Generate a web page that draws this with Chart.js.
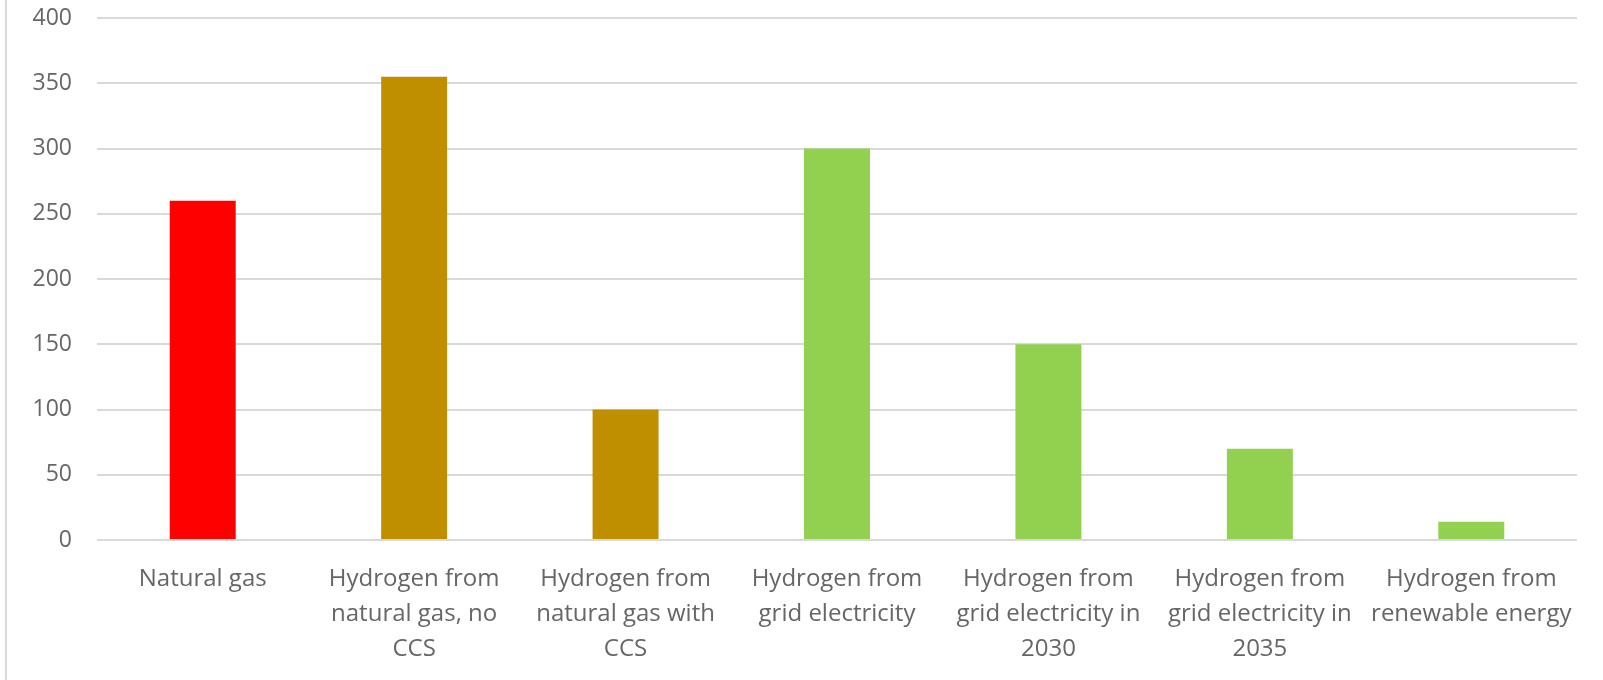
<!DOCTYPE html>
<html>
<head>
<meta charset="utf-8">
<script src="https://cdn.jsdelivr.net/npm/chart.js@4"></script>
<style>
  html, body { margin: 0; padding: 0; background: #ffffff; }
  #wrap { position: relative; width: 1603px; height: 680px; }
  canvas { display: block; }
</style>
</head>
<body>
<div id="wrap"><canvas id="c" width="1603" height="680"></canvas></div>
<script>
const categories = [
  "Natural gas",
  ["Hydrogen from", "natural gas, no", "CCS"],
  ["Hydrogen from", "natural gas with", "CCS"],
  ["Hydrogen from", "grid electricity"],
  ["Hydrogen from", "grid electricity in", "2030"],
  ["Hydrogen from", "grid electricity in", "2035"],
  ["Hydrogen from", "renewable energy"]
];
const values = [260, 355, 100, 300, 150, 70, 14];
const barColors = ["#FF0000", "#BF8F00", "#BF8F00", "#92D050", "#92D050", "#92D050", "#92D050"];
const yMin = 0, yMax = 400, yStep = 50;

const frame = {
  id: 'frame',
  beforeDraw(chart) {
    const ctx = chart.ctx;
    ctx.save();
    ctx.strokeStyle = '#d9d9d9';
    ctx.lineWidth = 2;
    ctx.beginPath();
    ctx.moveTo(6, 0);
    ctx.lineTo(6, 680);
    ctx.stroke();
    ctx.restore();
  }
};

const FONT = '"Open Sans", "Liberation Sans", sans-serif';

new Chart(document.getElementById('c'), {
  type: 'bar',
  data: {
    labels: categories,
    datasets: [{
      data: values,
      backgroundColor: barColors,
      borderWidth: 0,
      categoryPercentage: 1,
      barPercentage: 0.312
    }]
  },
  options: {
    responsive: false,
    animation: false,
    devicePixelRatio: 1,
    layout: { padding: { left: 0, right: 26, top: 18, bottom: 0 } },
    plugins: { legend: { display: false }, tooltip: { enabled: false } },
    scales: {
      x: {
        grid: { display: false, drawTicks: false },
        border: { display: false },
        ticks: {
          color: '#666666',
          font: { family: FONT, size: 24, lineHeight: 1.46 },
          padding: 22,
          maxRotation: 0,
          autoSkip: false
        },
        afterFit(scale) { scale.height = 140; scale.paddingLeft = 0; scale.paddingRight = 0; }
      },
      y: {
        min: yMin, max: yMax,
        grid: { color: '#d9d9d9', lineWidth: 2, drawTicks: false },
        border: { display: false },
        ticks: {
          stepSize: yStep,
          color: '#666666',
          font: { family: FONT, size: 23 },
          padding: 25
        },
        afterFit(scale) { scale.width = 97; scale.paddingTop = 0; scale.paddingBottom = 0; }
      }
    }
  },
  plugins: [frame]
});
</script>
</body>
</html>
